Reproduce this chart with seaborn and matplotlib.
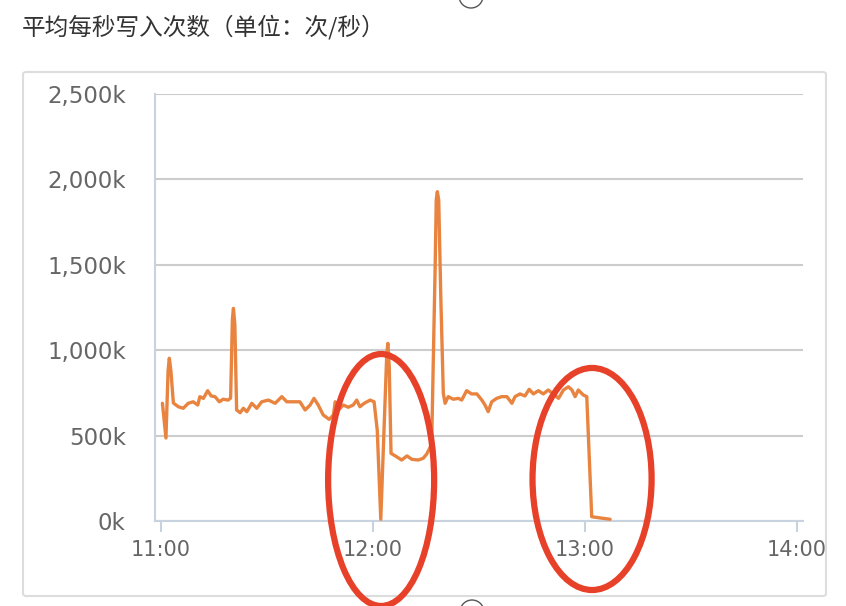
import matplotlib
matplotlib.use("Agg")
import matplotlib.pyplot as plt
import seaborn as sns
import pandas as pd
from matplotlib.patches import Ellipse, FancyBboxPatch, Circle
from matplotlib.ticker import FuncFormatter

# ---- data (minutes after 11:00, writes per second in thousands) ----
minutes = [0.4, 1.4, 2.0, 2.35, 2.8, 3.5, 4.9, 6.3, 7.7, 9.1, 10.4, 11.0, 12.0, 13.2, 14.2, 15.3,
           16.5, 17.6, 19.0, 19.7, 20.2, 20.5, 20.9, 21.4, 22.4, 23.3, 24.3, 25.7, 27.1, 28.5, 30.4,
           32.3, 34.2, 35.6, 37.4, 39.3, 40.8, 42.2, 43.3, 44.5, 45.9, 47.6, 48.8, 49.3,
           50.2, 51.6, 53.0, 54.4, 55.4, 56.3, 57.5, 59.2, 60.3, 61.2, 62.2, 63.9, 64.2, 64.6, 65.1,
           66.7, 68.1, 69.6, 71.0, 72.8, 74.2, 75.2, 76.6, 77.6, 77.9, 78.2, 78.6, 79.2, 79.9, 80.4,
           81.3, 82.7, 84.2,
           85.1, 86.5, 87.9, 89.4, 90.8, 91.7, 92.6, 93.6, 95.0, 96.4, 97.9, 99.3, 100.2,
           101.6, 103.0, 104.2, 105.4, 106.8, 108.2, 109.6, 111.0, 112.5, 113.9, 115.3,
           116.3, 117.2, 118.1, 119.5, 120.5, 121.9, 124.3, 127.1]
writes_k = [689, 486, 880, 953, 880, 691, 669, 660, 689, 698, 679, 728, 718, 763, 732, 728,
            698, 713, 708, 720, 1180, 1245, 1150, 650, 634, 660, 640, 689, 660, 698, 708,
            689, 728, 698, 698, 698, 650, 679, 718, 679, 621, 595, 621, 698,
            650, 679, 666, 679, 708, 669, 689, 708, 698, 533, 10, 980, 1040, 900, 396,
            376, 357, 381, 361, 357, 367, 392, 450, 1500, 1880, 1928, 1880, 1300, 748, 689,
            728, 713, 718,
            708, 763, 744, 744, 708, 679, 640, 698, 718, 728, 728, 689, 728,
            744, 732, 771, 744, 763, 744, 767, 744, 718, 767, 786,
            767, 728, 767, 738, 728, 25, 18, 10]

x_ticks = [0, 60, 120, 180]
x_tick_labels = ["11:00", "12:00", "13:00", "14:00"]
y_ticks = [0, 500, 1000, 1500, 2000, 2500]
title = "平均每秒写入次数（单位：次/秒）"

df = pd.DataFrame({"minute": minutes, "writes": writes_k})

sns.set_theme(style="white")
plt.rcParams["font.family"] = ["DejaVu Sans", "Noto Sans CJK SC"]

W, H = 846, 606
fig = plt.figure(figsize=(W / 100, H / 100), dpi=100)
fig.patch.set_facecolor("white")

# outer panel box
panel = FancyBboxPatch((23 / W, 1 - 596 / H), (826 - 23) / W, (596 - 72) / H,
                       boxstyle="round,pad=0,rounding_size=0.004",
                       transform=fig.transFigure, facecolor="white",
                       edgecolor="#dddddd", linewidth=1.5, zorder=0)
fig.add_artist(panel)

fig.text(22 / W, 1 - 27 / H, title, fontsize=17, color="#333333",
         ha="left", va="center", family=["Noto Sans CJK SC", "DejaVu Sans"])

ax = fig.add_axes([155 / W, 1 - 521 / H, (803 - 155) / W, (521 - 94) / H])
ax.set_facecolor("none")

sns.lineplot(data=df, x="minute", y="writes", ax=ax, color="#e8843f",
             linewidth=2.4, zorder=3)
for ln in ax.get_lines():
    ln.set_solid_joinstyle("round")
    ln.set_solid_capstyle("round")

ax.set_xlim(-1.7, 181.7)
ax.set_ylim(0, 2500)
ax.set_xticks(x_ticks)
ax.set_xticklabels(x_tick_labels)
ax.set_yticks(y_ticks)
ax.yaxis.set_major_formatter(FuncFormatter(lambda v, p: f"{int(v):,}k"))
ax.set_xlabel("")
ax.set_ylabel("")

for s in ["top", "right"]:
    ax.spines[s].set_visible(False)
for s in ["left", "bottom"]:
    ax.spines[s].set_color("#c9d3e0")
    ax.spines[s].set_linewidth(1.5)

ax.grid(axis="y", color="#cccccc", linewidth=1.5)
ax.grid(axis="x", visible=False)
ax.set_axisbelow(True)

ax.tick_params(axis="x", which="major", length=8, width=1.5, color="#c9d3e0",
               labelsize=15, labelcolor="#666666", pad=6, direction="out", bottom=True)
ax.tick_params(axis="y", length=0, labelsize=16.5, labelcolor="#666666", pad=21)

# red annotation ellipses
e1 = Ellipse((62.3, 240), 30, 1475, fill=False, edgecolor="#e8412a",
             linewidth=4.5, clip_on=False, zorder=5)
e2 = Ellipse((122.0, 246), 33.7, 1300, fill=False, edgecolor="#e8412a",
             linewidth=4.5, clip_on=False, zorder=5)
ax.add_patch(e1)
ax.add_patch(e2)

# small UI circle handles at top and bottom
for cx, cy in [(471, -4), (472, 612)]:
    c = Circle((cx / 100, (H - cy) / 100), 0.12, transform=fig.dpi_scale_trans,
               fill=False, edgecolor="#555555", linewidth=1.0, zorder=6)
    fig.add_artist(c)

fig.savefig("out.png", dpi=100, facecolor="white")
